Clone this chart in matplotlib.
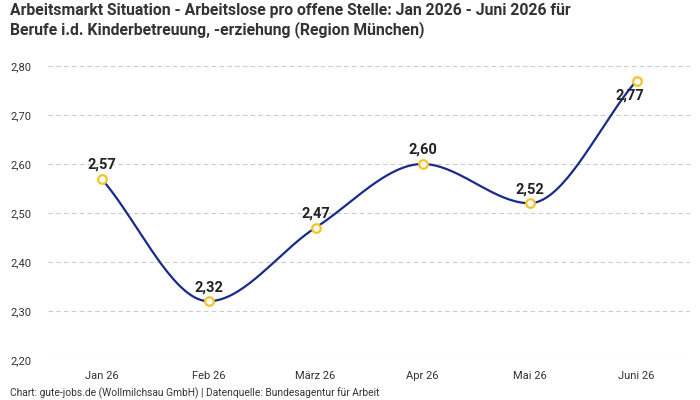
import numpy as np
import matplotlib.pyplot as plt

# Daten
monate = ["Jan 26", "Feb 26", "März 26", "Apr 26", "Mai 26", "Juni 26"]
werte = [2.57, 2.32, 2.47, 2.60, 2.52, 2.77]
yticks = [2.20, 2.30, 2.40, 2.50, 2.60, 2.70, 2.80]

titel = ("Arbeitsmarkt Situation - Arbeitslose pro offene Stelle: Jan 2026 - Juni 2026 für\n"
         "Berufe i.d. Kinderbetreuung, -erziehung (Region München)")
quelle = "Chart: gute-jobs.de (Wollmilchsau GmbH) | Datenquelle: Bundesagentur für Arbeit"

linie = "#1a2a8c"
punkt = "#f7c325"


def monotoneCurve(x, y, n=40):
    # monotone kubische Interpolation (Fritsch-Carlson)
    x = np.asarray(x, float)
    y = np.asarray(y, float)
    h = np.diff(x)
    d = np.diff(y) / h
    m = np.zeros(len(x))
    m[0] = d[0]
    m[-1] = d[-1]
    for i in range(1, len(x) - 1):
        if d[i-1] * d[i] <= 0:
            m[i] = 0
        else:
            w1 = 2*h[i] + h[i-1]
            w2 = h[i] + 2*h[i-1]
            m[i] = (w1 + w2) / (w1/d[i-1] + w2/d[i])
    xs, ys = [], []
    for i in range(len(x) - 1):
        t = np.linspace(0, 1, n)
        h00 = 2*t**3 - 3*t**2 + 1
        h10 = t**3 - 2*t**2 + t
        h01 = -2*t**3 + 3*t**2
        h11 = t**3 - t**2
        xs.append(x[i] + t*h[i])
        ys.append(h00*y[i] + h10*h[i]*m[i] + h01*y[i+1] + h11*h[i]*m[i+1])
    return np.concatenate(xs), np.concatenate(ys)


plt.rcParams['font.family'] = ['Roboto', 'DejaVu Sans']

fig = plt.figure(figsize=(7, 4), dpi=100)
ax = fig.add_axes([48/700, 1 - 360/400, 642/700, 294/400])

x = np.arange(len(werte))
cx, cy = monotoneCurve(x, werte)
ax.plot(cx, cy, color=linie, lw=1.6, zorder=2)
ax.scatter(x, werte, s=38, facecolor="white", edgecolor=punkt, linewidth=1.6, zorder=3)

for i, v in enumerate(werte):
    txt = f"{v:.2f}".replace(".", ",")
    if i == len(werte) - 1:
        ax.annotate(txt, (i, v), xytext=(-5, -6), textcoords="offset points",
                    ha="center", va="top", fontsize=10.5, fontweight="bold", color="#222222")
    else:
        ax.annotate(txt, (i, v), xytext=(0, 5), textcoords="offset points",
                    ha="center", va="bottom", fontsize=10.5, fontweight="bold", color="#222222")

ax.set_xlim(-0.5, len(werte) - 0.5)
ax.set_ylim(2.20, 2.80)
ax.set_xticks(x)
ax.set_xticklabels(monate)
ax.set_yticks(yticks)
ax.set_yticklabels([f"{t:.2f}".replace(".", ",") for t in yticks])
ax.tick_params(length=0, labelsize=8, colors="#333333", pad=8)
ax.tick_params(axis="y", pad=12)
ax.grid(axis="y", color="#cccccc", linestyle=(0, (4, 3)), lw=0.8)
ax.set_axisbelow(True)
for s in ax.spines.values():
    s.set_visible(False)

fig.text(10/700, 1 - 3/400, titel, ha="left", va="top", fontsize=11.3,
         fontweight="bold", color="#333333", linespacing=1.25)
fig.text(10/700, 1 - 393/400, quelle, ha="left", va="center", fontsize=7.4, color="#333333")

fig.savefig("out.png", dpi=100)
